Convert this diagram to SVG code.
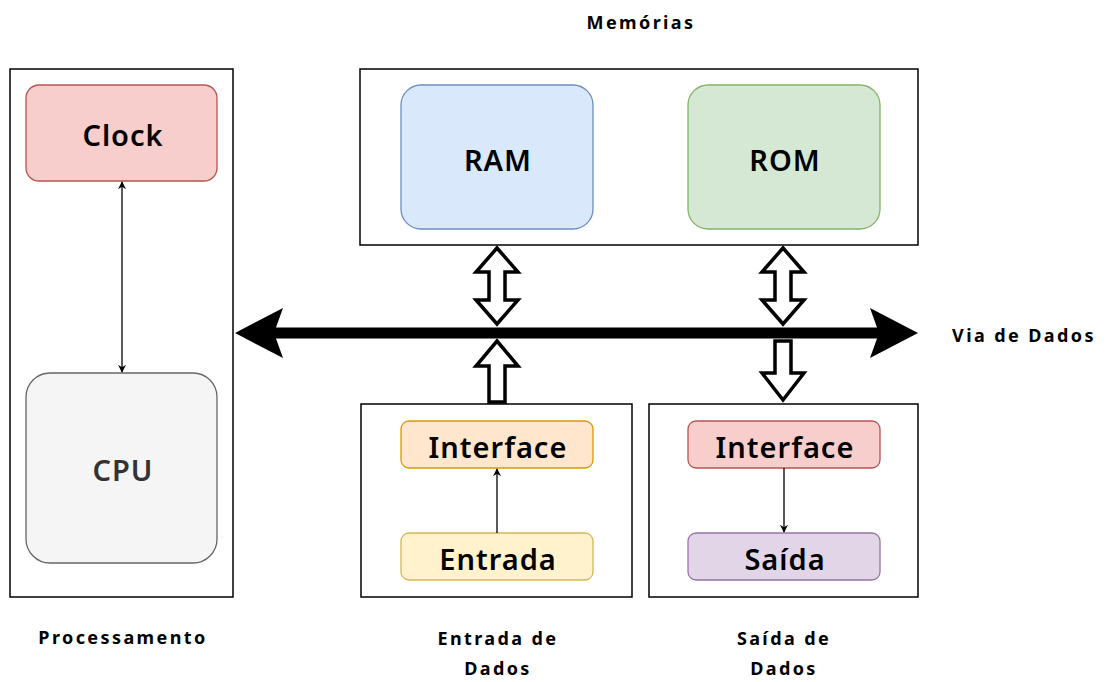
<svg xmlns="http://www.w3.org/2000/svg" width="1112" height="682" viewBox="0 0 1112 682">
  <style>
    text { font-family: "Noto Sans", "DejaVu Sans", sans-serif; text-anchor: middle; dominant-baseline: central; fill: #000; }
    .frame { fill: #ffffff; stroke: #000; stroke-width: 1.5; }
    .big { font-size: 29px; font-weight: 600; letter-spacing: 1px; }
    .cap { font-size: 18px; font-weight: 700; letter-spacing: 2.4px; }
    .thin { stroke: #000; stroke-width: 1.3; fill: none; }
    .block { fill: #ffffff; stroke: #000; stroke-width: 3.5; stroke-linejoin: miter; }
  </style>
  <defs>
    <marker id="tip" viewBox="0 0 10 10" refX="9" refY="5" markerWidth="8" markerHeight="8" orient="auto-start-reverse" markerUnits="userSpaceOnUse">
      <path d="M0,0 L10,5 L0,10 L3,5 Z" fill="#000"/>
    </marker>
  </defs>

  <rect width="1112" height="682" fill="#ffffff"/>

  <!-- Processing block -->
  <g id="processamento">
    <rect class="frame" x="10" y="69" width="223" height="528"/>
    <text class="cap" x="123" y="637">Processamento</text>
  </g>
  <g id="clock">
    <rect x="26" y="85" width="191" height="96" rx="13" fill="#f8cecc" stroke="#b85450" stroke-width="1.3"/>
    <text class="big" x="123" y="134">Clock</text>
  </g>
  <g id="cpu">
    <rect x="26" y="373" width="191" height="190" rx="24" fill="#f5f5f5" stroke="#666666" stroke-width="1.3"/>
    <text class="big" x="123" y="469" style="fill:#333333">CPU</text>
  </g>

  <!-- Memory block -->
  <g id="memorias">
    <rect class="frame" x="360" y="69" width="558" height="176"/>
    <text class="cap" x="641" y="22">Memórias</text>
  </g>
  <g id="ram">
    <rect x="401" y="85" width="192" height="144" rx="20" fill="#dae8fc" stroke="#6c8ebf" stroke-width="1.3"/>
    <text class="big" x="498" y="159">RAM</text>
  </g>
  <g id="rom">
    <rect x="688" y="85" width="192" height="144" rx="20" fill="#d5e8d4" stroke="#82b366" stroke-width="1.3"/>
    <text class="big" x="785" y="159">ROM</text>
  </g>

  <!-- Input block -->
  <g id="entrada-de-dados">
    <rect class="frame" x="361" y="404" width="271" height="193"/>
    <text class="cap" x="498" y="638">Entrada de</text>
    <text class="cap" x="498" y="668">Dados</text>
  </g>
  <g id="interface-entrada">
    <rect x="401" y="421" width="192" height="47" rx="8" fill="#ffe6cc" stroke="#d79b00" stroke-width="1.3"/>
    <text class="big" x="498" y="446">Interface</text>
  </g>
  <g id="entrada">
    <rect x="401" y="533" width="192" height="47" rx="8" fill="#fff2cc" stroke="#d6b656" stroke-width="1.3"/>
    <text class="big" x="498" y="558">Entrada</text>
  </g>

  <!-- Output block -->
  <g id="saida-de-dados">
    <rect class="frame" x="649" y="404" width="269" height="193"/>
    <text class="cap" x="784" y="638">Saída de</text>
    <text class="cap" x="784" y="668">Dados</text>
  </g>
  <g id="interface-saida">
    <rect x="688" y="421" width="192" height="47" rx="8" fill="#f8cecc" stroke="#b85450" stroke-width="1.3"/>
    <text class="big" x="785" y="446">Interface</text>
  </g>
  <g id="saida">
    <rect x="688" y="533" width="192" height="47" rx="8" fill="#e1d5e7" stroke="#9673a6" stroke-width="1.3"/>
    <text class="big" x="785" y="558">Saída</text>
  </g>

  <!-- Data bus label -->
  <g id="via-de-dados">
    <text class="cap" x="1024" y="335">Via de Dados</text>
  </g>

  <!-- Connectors -->
  <g id="connectors">
    <!-- clock <-> cpu -->
    <line class="thin" x1="122" y1="182" x2="122" y2="372" marker-start="url(#tip)" marker-end="url(#tip)"/>
    <!-- entrada -> interface -->
    <line class="thin" x1="497" y1="533" x2="497" y2="469" marker-end="url(#tip)"/>
    <!-- interface -> saida -->
    <line class="thin" x1="784" y1="468" x2="784" y2="532" marker-end="url(#tip)"/>

    <!-- data bus: thick double-headed arrow -->
    <rect x="272" y="327.5" width="608" height="11" fill="#000"/>
    <path d="M235,333 L283,308 L274,333 L283,358 Z" fill="#000"/>
    <path d="M918,333 L870,308 L879,333 L870,358 Z" fill="#000"/>

    <!-- memory <-> bus (hollow block arrows) -->
    <path class="block" d="M497,248 L518,272 L505,272 L505,300 L518,300 L497,324 L476,300 L489,300 L489,272 L476,272 Z"/>
    <path class="block" d="M783,248 L804,272 L791,272 L791,300 L804,300 L783,324 L762,300 L775,300 L775,272 L762,272 Z"/>

    <!-- input -> bus -->
    <path class="block" d="M497,341 L518,366 L505,366 L505,402 L489,402 L489,366 L476,366 Z"/>
    <!-- bus -> output -->
    <path class="block" d="M775,341 L791,341 L791,373 L804,373 L783,400 L762,373 L775,373 Z"/>
  </g>
</svg>
